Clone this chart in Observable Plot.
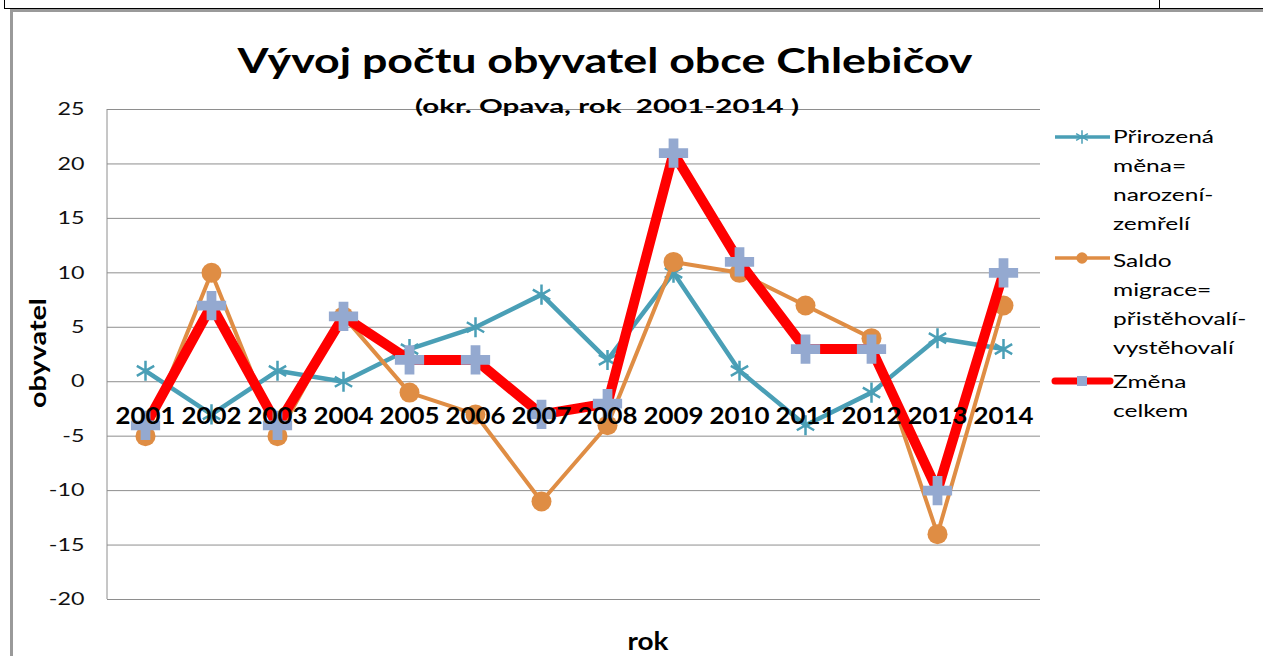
<!DOCTYPE html>
<html><head><meta charset="utf-8">
<script src="https://cdn.jsdelivr.net/npm/d3@7"></script>
<script src="https://cdn.jsdelivr.net/npm/@observablehq/plot@0.6"></script>
<style>
html,body{margin:0;padding:0;background:#fff;}
#wrap{position:relative;width:1263px;height:656px;overflow:hidden;background:#fff;}
.ln{position:absolute;}
</style></head><body>
<div id="wrap">
  <div class="ln" style="left:4px;top:8px;right:0;height:1px;background:#000"></div>
  <div class="ln" style="left:4px;top:0;width:1px;height:9px;background:#000"></div>
  <div class="ln" style="left:1159px;top:0;width:1px;height:8px;background:#000"></div>
  <div class="ln" style="left:10px;top:9px;right:0;height:3px;background:#9a9a9a"></div>
  <div class="ln" style="left:10px;top:9px;bottom:0;width:3px;background:#9a9a9a"></div>
</div>
<script>
// ---- data ----
const years = ["2001","2002","2003","2004","2005","2006","2007","2008","2009","2010","2011","2012","2013","2014"];
const prirozenaMena = [1, -3, 1, 0, 3, 5, 8, 2, 10, 1, -4, -1, 4, 3];
const saldoMigrace = [-5, 10, -5, 6, -1, -3, -11, -4, 11, 10, 7, 4, -14, 7];
const zmenaCelkem = [-4, 7, -4, 6, 2, 2, -3, -2, 21, 11, 3, 3, -10, 10];
const yTicks = [-20, -15, -10, -5, 0, 5, 10, 15, 20, 25];
const legendPrirozena = ["Přirozená", "měna=", "narození-", "zemřelí"];
const legendSaldo = ["Saldo", "migrace=", "přistěhovalí-", "vystěhovalí"];
const legendZmena = ["Změna", "celkem"];
const titleText = "Vývoj počtu obyvatel obce Chlebičov";
const subtitleText = "(okr. Opava, rok  2001-2014 )";
const yLabel = "obyvatel";
const xLabel = "rok";

const TEAL = "#4a9fb6", ORANGE = "#df8d44", RED = "#ff0000", PLUS = "#94a9d0", GRID = "#8e8e8e";
const FONT = "Lato, 'Open Sans', sans-serif";

const rows = v => years.map((y, i) => ({year: y, value: v[i]}));
const dTeal = rows(prirozenaMena), dOrange = rows(saldoMigrace), dRed = rows(zmenaCelkem);

const chart = Plot.plot({
  width: 1263, height: 656,
  marginLeft: 107, marginRight: 223, marginTop: 109, marginBottom: 57,
  style: {fontFamily: FONT, background: "transparent", overflow: "visible"},
  x: {type: "point", domain: years, padding: 0.5, axis: null},
  y: {domain: [-20, 25], axis: null},
  marks: [
    Plot.ruleY(yTicks, {stroke: GRID, strokeWidth: 1}),
    Plot.text(yTicks, {y: d => d, text: d => String(d), frameAnchor: "left", textAnchor: "end", dx: -23,
      fontSize: 18, fill: "#111", ariaDescription: "yticks"}),
    Plot.line(dTeal, {x: "year", y: "value", stroke: TEAL, strokeWidth: 4.5}),
    Plot.dot(dTeal, {x: "year", y: "value", symbol: "asterisk", r: 9.5, stroke: TEAL, strokeWidth: 2.5}),
    Plot.line(dOrange, {x: "year", y: "value", stroke: ORANGE, strokeWidth: 4}),
    Plot.dot(dOrange, {x: "year", y: "value", symbol: "circle", r: 10, fill: ORANGE, stroke: "none"}),
    Plot.line(dRed, {x: "year", y: "value", stroke: RED, strokeWidth: 10}),
    Plot.dot(dRed, {x: "year", y: "value", symbol: "cross", r: 12.3, fill: PLUS, stroke: "none"}),
    Plot.text(years, {x: d => d, y: () => 0, dy: 35, text: d => d, fontSize: 23, fontWeight: "bold",
      fill: "#000", ariaDescription: "years"})
  ]
});
document.getElementById("wrap").appendChild(chart);
chart.style.position = "absolute"; chart.style.left = "0"; chart.style.top = "0";

const svg = d3.select(chart);
const ys = chart.scale("y");
// left axis line
svg.append("line").attr("x1", 107).attr("x2", 107).attr("y1", ys.range[0]).attr("y2", ys.range[1])
  .attr("stroke", GRID).attr("stroke-width", 1);

function fitLen(sel, refIdx, target) {
  const nodes = sel.nodes();
  const f = target / nodes[refIdx].getComputedTextLength();
  nodes.forEach(n => { n.setAttribute("textLength", n.getComputedTextLength() * f); n.setAttribute("lengthAdjust", "spacingAndGlyphs"); });
}

// title / subtitle
const t1 = svg.append("text").attr("x", 605).attr("y", 73).attr("text-anchor", "middle")
  .attr("font-family", FONT).attr("font-weight", "bold").attr("font-size", 35).attr("fill", "#000").text(titleText);
fitLen(t1, 0, 735);
const t2 = svg.append("text").attr("x", 607).attr("y", 113).attr("text-anchor", "middle")
  .attr("font-family", FONT).attr("font-weight", "bold").attr("font-size", 19).attr("fill", "#000").text(subtitleText);
fitLen(t2, 0, 384);
// axis titles
const yl = svg.append("text").attr("transform", "translate(46,353) rotate(-90)").attr("text-anchor", "middle")
  .attr("font-family", FONT).attr("font-weight", "bold").attr("font-size", 22).attr("fill", "#000").text(yLabel);
fitLen(yl, 0, 110);
const xl = svg.append("text").attr("x", 648).attr("y", 650).attr("text-anchor", "middle")
  .attr("font-family", FONT).attr("font-weight", "bold").attr("font-size", 24).attr("fill", "#000").text(xLabel);
fitLen(xl, 0, 41);

// stretch tick & year labels
fitLen(svg.selectAll("g[aria-description='yticks'] text"), 9, 27);
fitLen(svg.selectAll("g[aria-description='years'] text"), 0, 60);

// legend
const lg = svg.append("g").attr("font-family", FONT).attr("font-size", 18).attr("fill", "#000").attr("text-anchor", "start");
const items = [
  {lines: legendPrirozena, color: TEAL, w: 3.5, y: 137, base: 143, sym: d3.symbolAsterisk, size: 130, mode: "stroke", mc: TEAL},
  {lines: legendSaldo, color: ORANGE, w: 3.5, y: 258, base: 267, sym: d3.symbolCircle, size: 100, mode: "fill", mc: ORANGE},
  {lines: legendZmena, color: RED, w: 7, y: 381, base: 388, sym: d3.symbolSquare, size: 100, mode: "fill", mc: PLUS}
];
const legTexts = [];
items.forEach(it => {
  lg.append("line").attr("x1", 1055).attr("x2", 1110).attr("y1", it.y).attr("y2", it.y)
    .attr("stroke", it.color).attr("stroke-width", it.w).attr("stroke-linecap", it.w > 5 ? "round" : "butt");
  const p = lg.append("path").attr("d", d3.symbol(it.sym, it.size)()).attr("transform", `translate(1082,${it.y})`);
  if (it.mode === "stroke") p.attr("fill", "none").attr("stroke", it.mc).attr("stroke-width", 1.5);
  else p.attr("fill", it.mc);
  it.lines.forEach((s, i) => {
    legTexts.push(lg.append("text").attr("x", 1113).attr("y", it.base + i * 29).attr("text-anchor", "start").text(s).node());
  });
});
const lf = 101 / legTexts[0].getComputedTextLength();
legTexts.forEach(n => { n.setAttribute("textLength", n.getComputedTextLength() * lf); n.setAttribute("lengthAdjust", "spacingAndGlyphs"); });
</script>
</body></html>
